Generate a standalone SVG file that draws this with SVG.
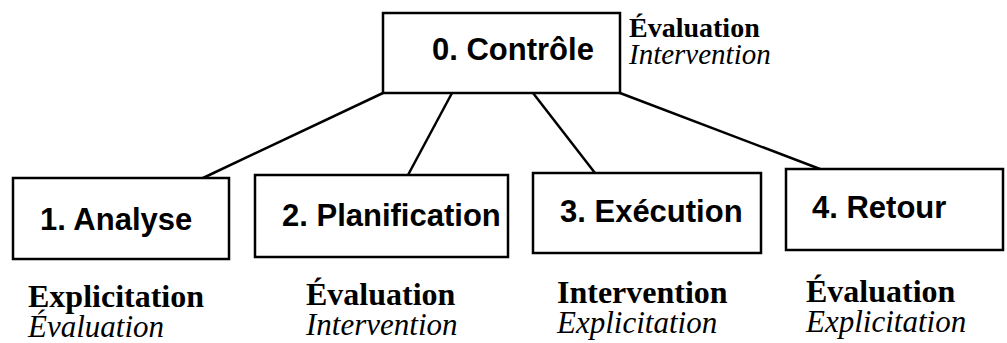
<svg xmlns="http://www.w3.org/2000/svg" width="1007" height="343" viewBox="0 0 1007 343">
  <style>
    .box { fill: #fff; stroke: #000; stroke-width: 2.5; }
    .link { stroke: #000; stroke-width: 2.5; fill: none; }
    .title { font-family: "Liberation Sans", Arial, sans-serif; font-weight: bold; font-size: 31px; fill: #000; }
    .main { font-family: "Liberation Serif", "Times New Roman", serif; font-weight: bold; font-size: 32px; fill: #000; }
    .alt { font-family: "Liberation Serif", "Times New Roman", serif; font-style: italic; font-size: 31px; fill: #000; }
    .main.small { font-size: 28px; }
    .alt.small { font-size: 29px; }
  </style>
  <rect width="1007" height="343" fill="#fff"/>

  <!-- connectors from the control node to the four phases -->
  <g id="connectors">
    <line class="link" x1="383" y1="93" x2="203" y2="178"/>
    <line class="link" x1="452" y1="93" x2="408" y2="175"/>
    <line class="link" x1="533" y1="93" x2="595" y2="173"/>
    <line class="link" x1="620" y1="93" x2="820" y2="169"/>
  </g>

  <g id="node0">
    <rect class="box" x="383" y="13" width="237" height="80"/>
    <text class="title" x="432" y="60">0. Contrôle</text>
    <text class="main small" x="629" y="37">Évaluation</text>
    <text class="alt small" x="629" y="64">Intervention</text>
  </g>

  <g id="node1">
    <rect class="box" x="13" y="178" width="216" height="81"/>
    <text class="title" x="40" y="230">1. Analyse</text>
    <text class="main" x="28" y="307">Explicitation</text>
    <text class="alt" x="28" y="337">Évaluation</text>
  </g>

  <g id="node2">
    <rect class="box" x="255" y="175" width="253" height="82"/>
    <text class="title" x="282" y="226">2. Planification</text>
    <text class="main" x="306" y="305">Évaluation</text>
    <text class="alt" x="306" y="335">Intervention</text>
  </g>

  <g id="node3">
    <rect class="box" x="533" y="173" width="228" height="80"/>
    <text class="title" x="560" y="222">3. Exécution</text>
    <text class="main" x="557" y="303">Intervention</text>
    <text class="alt" x="557" y="333">Explicitation</text>
  </g>

  <g id="node4">
    <rect class="box" x="786" y="169" width="217" height="81"/>
    <text class="title" x="812" y="218">4. Retour</text>
    <text class="main" x="806" y="302">Évaluation</text>
    <text class="alt" x="806" y="332">Explicitation</text>
  </g>
</svg>
